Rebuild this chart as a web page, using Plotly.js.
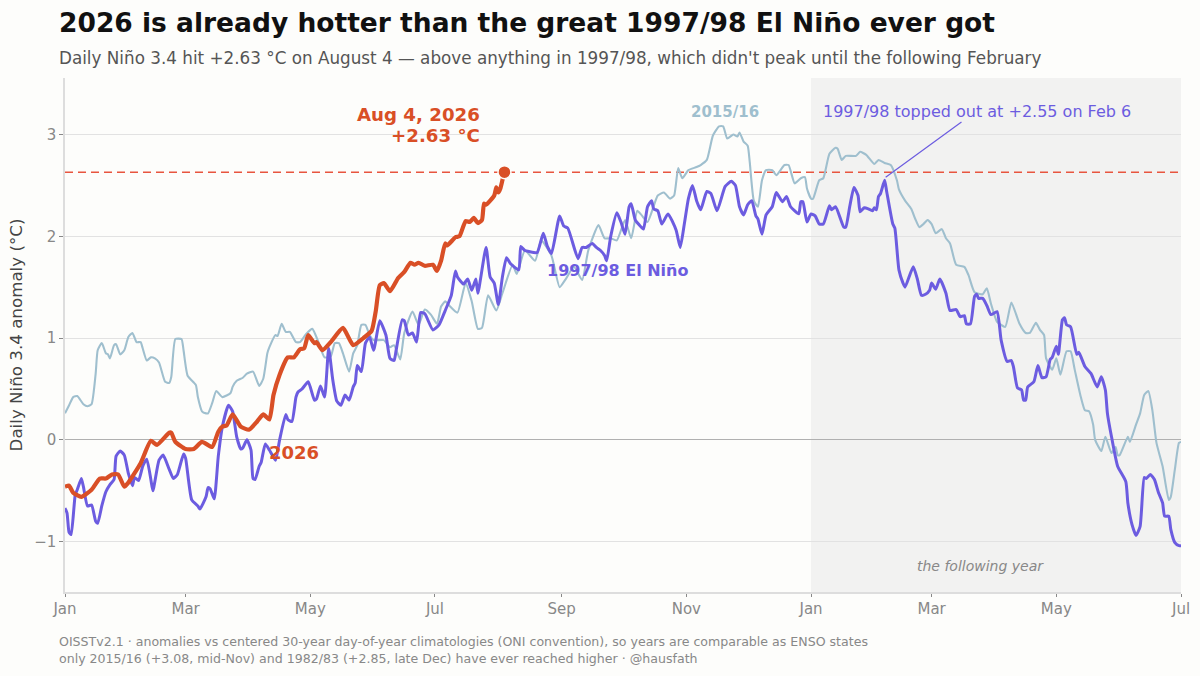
<!DOCTYPE html>
<html><head><meta charset="utf-8">
<script src="https://cdn.plot.ly/plotly-3.0.1.min.js"></script>
<style>html,body{margin:0;padding:0;background:#fdfdfb}</style></head>
<body><div id="chart" style="width:1200px;height:676px"></div>
<script>
const tickDays = [0,59,120,181,243,304,365,424,485,546];
const tickMonths = ["Jan","Mar","May","Jul","Sep","Nov","Jan","Mar","May","Jul"];

const days1997 = [0,1,2,3,5,6,8,9,11,13,15,16,18,20,22,24,25,27,29,31,33,34,36,38,40,42,43,46,48,51,53,55,58,59,62,65,66,69,70,71,73,75,77,80,82,84,86,87,89,91,92,93,95,96,98,100,103,105,108,109,111,113,114,116,119,122,123,125,127,129,131,133,135,137,139,141,142,143,145,147,149,151,154,157,159,161,162,165,166,168,170,172,174,176,180,183,186,189,191,192,195,197,199,201,202,206,208,210,212,214,216,218,222,223,225,227,231,234,236,238,242,244,246,251,253,255,258,260,262,264,265,267,270,272,274,276,277,279,281,283,285,287,288,290,292,295,299,301,303,305,307,309,311,314,316,319,323,326,328,330,332,334,336,338,339,341,343,346,348,351,353,355,359,360,361,363,365,367,369,371,374,375,377,381,382,384,386,388,389,391,393,395,396,397,398,399,401,402,405,406,408,410,411,415,417,419,421,423,424,426,428,431,433,436,438,440,441,443,445,446,447,449,451,453,456,458,461,463,464,466,468,469,470,471,474,476,478,480,482,483,485,486,488,489,490,492,495,496,499,502,505,507,509,510,512,515,519,520,522,524,526,528,529,531,533,535,537,538,540,541,543,545,546];
const values1997 = [-.67,-.72,-.91,-.93,-.54,-.49,-.38,-.46,-.65,-.64,-.80,-.82,-.65,-.51,-.44,-.39,-.16,-.11,-.15,-.33,-.45,-.37,-.40,-.26,-.19,-.39,-.50,-.20,-.15,-.29,-.38,-.34,-.14,-.18,-.59,-.65,-.68,-.56,-.47,-.48,-.58,-.16,.13,.34,.28,.03,-.09,-.08,0,-.10,-.38,-.39,-.26,-.22,-.04,-.10,-.20,0,.25,.20,.18,.42,.47,.50,.57,.39,.40,.53,.42,.90,.59,.38,.34,.44,.39,.52,.56,.73,.67,.95,1.01,.88,1.17,1.03,.80,.78,.88,1.18,1.17,1.03,1.05,.96,1.25,1.24,1.08,1.13,1.27,1.42,1.66,1.60,1.53,1.58,1.47,1.58,1.44,1.89,1.60,1.54,1.33,1.60,1.79,1.73,1.67,1.90,1.86,1.85,1.84,2.03,1.90,1.83,2.20,2.10,2.08,1.78,1.89,1.89,1.93,1.89,1.86,1.81,1.76,2.00,2.23,2.14,2.02,2.29,2.32,2.16,2.11,2.07,2.29,2.35,2.27,2.25,2.12,2.22,2.06,1.89,2.12,2.37,2.50,2.35,2.26,2.44,2.42,2.25,2.49,2.54,2.50,2.29,2.21,2.31,2.35,2.20,2.17,2.02,2.21,2.29,2.43,2.34,2.39,2.29,2.22,2.34,2.34,2.14,2.22,2.20,2.12,2.12,2.30,2.26,2.29,2.09,2.09,2.30,2.48,2.40,2.24,2.28,2.27,2.25,2.28,2.26,2.39,2.42,2.55,2.44,2.12,2.08,1.67,1.54,1.50,1.70,1.58,1.42,1.43,1.47,1.54,1.48,1.58,1.44,1.27,1.28,1.21,1.22,1.14,1.14,1.41,1.43,1.39,1.39,1.32,1.23,1.26,.98,.77,.78,.72,.51,.49,.39,.39,.52,.57,.73,.61,.62,.79,.81,.92,.84,1.18,1.20,1.13,1.11,.84,.86,.72,.65,.52,.62,.49,.26,.03,-.26,-.41,-.62,-.83,-.94,-.85,-.37,-.38,-.34,-.39,-.52,-.62,-.75,-.75,-.88,-1.01,-1.04,-1.04];

const days2015 = [0,2,4,6,9,11,13,15,16,18,20,21,22,24,25,27,29,31,33,35,37,38,40,42,44,46,49,51,52,54,57,58,60,64,65,67,69,70,72,74,77,81,82,84,87,89,92,95,97,99,100,103,104,106,108,110,113,115,118,121,124,127,130,132,134,136,139,141,143,145,147,149,151,156,159,161,164,166,170,173,176,179,182,184,186,188,192,196,199,202,204,207,211,214,219,221,225,230,233,238,242,245,249,253,256,261,264,267,270,274,277,280,282,285,290,293,296,298,300,302,305,309,311,314,317,320,322,324,327,329,330,332,334,335,337,339,341,343,346,348,352,354,357,360,362,363,365,366,369,371,374,377,378,380,382,387,389,392,396,398,401,404,407,408,411,414,416,418,420,422,424,426,429,431,433,436,440,442,445,449,451,453,456,460,463,467,470,472,475,477,479,480,483,485,487,490,492,494,497,499,501,503,504,507,509,512,514,515,516,520,521,524,526,528,530,532,534,537,540,541,543,545,546];
const values2015 = [.26,.34,.42,.43,.35,.33,.35,.65,.88,.95,.85,.84,.80,.93,.94,.84,.88,1.01,1.05,.96,.96,.90,.78,.81,.80,.76,.57,.56,.62,.99,.99,.88,.63,.54,.42,.28,.26,.26,.36,.48,.42,.46,.52,.58,.61,.65,.67,.53,.60,.85,.91,1.03,1.02,1.14,1.06,1.06,.96,.96,1.04,1.09,.96,.81,.82,.95,.95,.85,.67,.85,.93,1.13,1.13,1.03,.98,.98,.91,.93,.79,1.05,1.26,1.13,1.28,1.23,1.14,1.31,1.36,1.32,1.25,1.54,1.36,1.09,1.10,1.42,1.27,1.44,1.72,1.63,1.86,1.76,1.96,1.81,1.50,1.58,1.70,1.57,1.86,2.11,1.98,1.98,1.96,2.16,1.98,2.25,2.21,2.14,2.40,2.43,2.37,2.40,2.67,2.57,2.65,2.68,2.70,2.75,2.99,3.08,3.08,2.96,3.00,2.98,3.02,2.93,2.89,2.73,2.35,2.29,2.55,2.65,2.65,2.60,2.70,2.70,2.52,2.57,2.58,2.47,2.37,2.37,2.55,2.57,2.81,2.87,2.86,2.75,2.79,2.79,2.83,2.80,2.71,2.75,2.72,2.70,2.55,2.46,2.35,2.27,2.17,2.09,2.12,2.16,2.12,2.03,2.07,1.98,1.93,1.72,1.70,1.62,1.45,1.43,1.49,1.34,1.16,1.11,1.35,1.14,1.05,1.05,1.15,1.08,1.03,.80,.69,.80,.64,.87,.87,.69,.42,.29,.28,.15,0,-.11,.03,-.13,-.07,-.15,-.15,.03,-.02,.15,.26,.44,.48,.29,-.03,-.26,-.59,-.56,-.29,-.03,-.02];

const days2026 = [0,2,4,8,13,17,20,23,26,29,31,37,42,45,51,52,54,59,63,67,72,75,77,79,82,86,90,94,97,100,102,105,109,112,115,117,119,122,123,126,130,136,141,146,150,152,154,156,159,163,166,169,171,173,176,180,182,184,186,187,191,193,196,198,200,202,204,205,206,210,211,212,213,214,215];
const values2026 = [-.46,-.45,-.52,-.56,-.49,-.38,-.38,-.34,-.34,-.46,-.42,-.23,-.01,-.05,.07,.07,-.02,-.09,-.09,-.02,-.07,.08,.13,.14,.25,.13,.10,.18,.25,.20,.44,.64,.81,.81,.89,.90,1.03,.95,.96,.88,.96,1.10,.93,1.00,1.07,1.26,1.52,1.54,1.46,1.59,1.65,1.74,1.72,1.74,1.71,1.72,1.66,1.76,1.93,1.91,1.99,2.00,2.15,2.14,2.18,2.13,2.16,2.32,2.31,2.40,2.48,2.43,2.47,2.55,2.63];

const peakDay = [215];
const peakValue = [2.63];
const followingYearStart = 365, lastDay = 546;

const PURPLE="#6c5ce0", ORANGE="#d94f26", BLUE="#9fbfce", FONT="DejaVu Sans, sans-serif";
const line=(x,y,c,w,n)=>({type:"scatter",mode:"lines",x,y,name:n,line:{color:c,width:w,shape:"spline",smoothing:0.5},hoverinfo:"skip"});
const traces=[
  line(days2015,values2015,BLUE,2.1,"2015/16"),
  line(days1997,values1997,PURPLE,3,"1997/98"),
  line(days2026,values2026,ORANGE,4.2,"2026"),
  {type:"scatter",mode:"markers",x:peakDay,y:peakValue,name:"peak",hoverinfo:"skip",
   marker:{color:ORANGE,size:13,line:{color:"#fdfdfb",width:1.5}}}
];
const note=(x,y,text,color,size,extra)=>Object.assign({x,y,xref:"x",yref:"y",text,showarrow:false,
  font:{family:FONT,size,color}},extra||{});
const paperNote=(x,y,text,color,size)=>({x,y,xref:"paper",yref:"paper",text,showarrow:false,xanchor:"left",yanchor:"middle",align:"left",
  font:{family:FONT,size,color}});
const layout={
  width:1200,height:676,paper_bgcolor:"#fdfdfb",plot_bgcolor:"#fdfdfb",showlegend:false,
  margin:{l:65,r:19,t:78,b:83.5},
  font:{family:FONT},
  title:{text:"<b>2026 is already hotter than the great 1997/98 El Niño ever got</b>",x:59/1200,xanchor:"left",xref:"container",
    y:1-23/676,yanchor:"middle",yref:"container",font:{family:FONT,size:26.5,color:"#111111"}},
  xaxis:{range:[0,lastDay],tickmode:"array",tickvals:tickDays,ticktext:tickMonths,showgrid:false,zeroline:false,
    showline:true,linecolor:"#dddddd",linewidth:1.5,ticks:"outside",ticklen:3,tickcolor:"#888888",tickwidth:1,ticklabelstandoff:-1,
    tickfont:{family:FONT,size:15,color:"#888888"}},
  yaxis:{range:[-1.495,3.555],tickvals:[-1,0,1,2,3],ticktext:["−1","0","1","2","3"],showgrid:true,gridcolor:"#e2e2e2",gridwidth:1.2,
    zeroline:true,zerolinecolor:"#b0b0b0",zerolinewidth:1.3,showline:true,linecolor:"#dddddd",linewidth:1.5,
    ticks:"outside",ticklen:4,tickcolor:"#888888",tickwidth:1,tickfont:{family:FONT,size:15,color:"#888888"},
    title:{text:"Daily Niño 3.4 anomaly (°C)",standoff:7,font:{family:FONT,size:16.7,color:"#444444"}}},
  shapes:[
    {type:"rect",xref:"x",yref:"paper",x0:followingYearStart,x1:lastDay,y0:0,y1:1,fillcolor:"#f2f2f1",line:{width:0},layer:"below"},
    {type:"line",xref:"paper",yref:"y",x0:0,x1:1,y0:peakValue[0],y1:peakValue[0],line:{color:"#e8553f",width:1.5,dash:"8px,5px"},layer:"between"}
  ],
  annotations:[
    paperNote(-8/1116,1+20/515,"Daily Niño 3.4 hit +2.63 °C on August 4 — above anything in 1997/98, which didn't peak until the following February","#555555",16.8),
    paperNote(-8/1116,-50/515,"OISSTv2.1 · anomalies vs centered 30-year day-of-year climatologies (ONI convention), so years are comparable as ENSO states","#888888",12.58),
    paperNote(-8/1116,-67/515,"only 2015/16 (+3.08, mid-Nov) and 1982/83 (+2.85, late Dec) have ever reached higher · @hausfath","#888888",12.58),
    note(204,3.2,"<b>Aug 4, 2026</b>",ORANGE,18.2,{xanchor:"right",align:"right"}),
    note(204,2.995,"<b>+2.63 °C</b>",ORANGE,18.2,{xanchor:"right",align:"right"}),
    note(112,-.12,"<b>2026</b>",ORANGE,18),
    note(270.5,1.66,"<b>1997/98 El Niño</b>",PURPLE,16),
    note(323,3.22,"<b>2015/16</b>",BLUE,15),
    {x:401.5,y:2.58,xref:"x",yref:"y",ax:446,ay:3.23,axref:"x",ayref:"y",showarrow:true,arrowhead:0,arrowwidth:1.2,arrowcolor:PURPLE,
     text:"1997/98 topped out at +2.55 on Feb 6",font:{family:FONT,size:16,color:PURPLE}},
    note(448,-1.24,"<i>the following year</i>","#888888",14)
  ]
};
Plotly.newPlot("chart",traces,layout,{displayModeBar:false,responsive:false});
</script></body></html>
